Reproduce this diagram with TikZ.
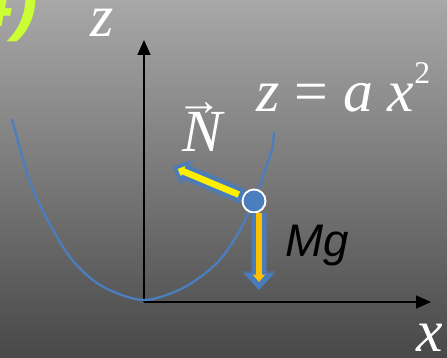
\documentclass[tikz,border=0pt]{standalone}
\usepackage{fontspec}
\usepackage{tikz}
\usetikzlibrary{arrows.meta}
\setmainfont{Liberation Serif}
\newfontfamily\sansfont{Liberation Sans}
\definecolor{curveblue}{HTML}{4A7EBE}
\definecolor{forceblue}{HTML}{4A7CBC}
\definecolor{nyellow}{HTML}{FFEE00}
\definecolor{gyellow}{HTML}{FFC000}
\definecolor{partgreen}{HTML}{CCFF33}
\definecolor{bgdark}{HTML}{484848}
\definecolor{bglight}{HTML}{A8A8A8}

\tikzset{
  axis/.style={black,line width=0.85pt,-{Triangle[length=0.3cm,width=0.26cm]}},
  maths/.style={white,inner sep=0pt,anchor=base west,font=\fontsize{34}{40}\selectfont\itshape},
  forceglow/.style={forceblue,opacity=0.45,line width=0.34cm},
  forceout/.style={forceblue,line width=0.27cm},
  forcein/.style={line width=0.13cm},
}

\begin{document}
\begin{tikzpicture}[x=0.02cm,y=-0.02cm]
  \useasboundingbox (0,0) rectangle (447,358);
  \clip (0,0) rectangle (447,358);
  \shade[shading angle=-65,top color=bglight,bottom color=bgdark] (0,0) rectangle (447,358);

  \coordinate (O) at (144,302);
  \coordinate (ztip) at (144,40);
  \coordinate (xtip) at (431,302);
  \draw[axis] (O) -- (ztip);
  \draw[axis] (O) -- (xtip);

  \draw[curveblue,line width=1.3pt] plot[smooth] coordinates {(12,119) (33,190) (67,253) (100,285) (143,300)
    (183,288) (217,263) (240,230) (258,190) (266,167) (272,150) (274,132)};

  \node[circle,fill=curveblue,draw=white,line width=1.1pt,minimum size=0.46cm,inner sep=0pt] (ball) at (254,201) {};

  \coordinate (ntip) at (173,167);
  \coordinate (gtip) at (259,290);
  \draw[forceglow,-{Triangle[length=0.32cm,width=0.56cm]}] (ball) -- (ntip);
  \draw[forceout,-{Triangle[length=0.26cm,width=0.48cm]}] (ball) -- (ntip);
  \draw[forcein,nyellow,shorten <=0.08cm,shorten >=0.1cm,-{Triangle[length=0.12cm,width=0.22cm]}] (ball) -- (ntip);
  \draw[forceglow,-{Triangle[length=0.38cm,width=0.66cm]}] (ball.south -| gtip) -- (gtip);
  \draw[forceout,-{Triangle[length=0.34cm,width=0.6cm]}] (ball.south -| gtip) -- (gtip);
  \draw[forcein,gyellow,shorten >=0.16cm,-{Triangle[length=0.15cm,width=0.24cm]}] (ball.south -| gtip) -- (gtip);

  \node[maths] (zlabel) at (90,37) {z};
  \node[maths] (xlabel) at (416,352) {x};
  \node[maths] (curvelabel) at (256,112) {z \upshape= \itshape a x\raisebox{0.58cm}{\fontsize{18}{18}\selectfont\upshape 2}};
  \node[maths] (nlabel) at (182,152) {N\llap{\raisebox{0.74cm}{\fontsize{26}{26}\selectfont\upshape →}}};
  \node[anchor=base west,inner sep=0pt,font=\sansfont\fontsize{26}{30}\selectfont\itshape] (mglabel) at (285,257) {Mg};
  \node[partgreen,anchor=base east,inner sep=0pt,font=\sansfont\fontsize{42}{46}\selectfont\bfseries\itshape] (partlabel) at (38,27) {4)};
\end{tikzpicture}
\end{document}
